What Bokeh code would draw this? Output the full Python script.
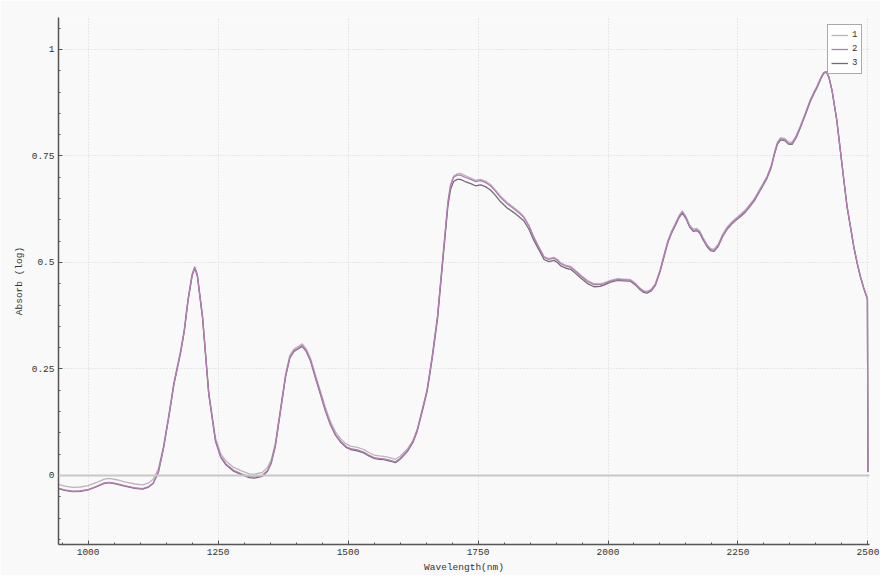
from bokeh.plotting import figure
from bokeh.models import FixedTicker, Span, Legend, LegendItem
from bokeh.embed import file_html
from bokeh.resources import INLINE

wavelength = [943, 955, 970, 985, 1000, 1015, 1030, 1040, 1055, 1070,
              1090, 1105, 1115, 1125, 1135, 1145, 1155, 1165, 1178, 1185,
              1192, 1200, 1205, 1210, 1220, 1232, 1245, 1255, 1265, 1280,
              1295, 1310, 1320, 1335, 1345, 1352, 1360, 1370, 1380, 1388,
              1396, 1405, 1412, 1420, 1428, 1437, 1447, 1456, 1466, 1476,
              1486, 1496, 1505, 1518, 1530, 1540, 1550, 1560, 1569, 1580,
              1591, 1600, 1614, 1625, 1633, 1642, 1652, 1662, 1672, 1680,
              1686, 1692, 1697, 1703, 1710, 1716, 1725, 1736, 1745, 1755,
              1764, 1774, 1783, 1793, 1806, 1819, 1830, 1838, 1848, 1857,
              1867, 1877, 1886, 1896, 1903, 1909, 1918, 1928, 1937, 1947,
              1960, 1973, 1985, 1992, 2005, 2018, 2030, 2043, 2052, 2060,
              2068, 2075, 2083, 2091, 2100, 2107, 2115, 2122, 2130, 2137,
              2143, 2150, 2157, 2164, 2170, 2176, 2183, 2190, 2197, 2204,
              2212, 2220, 2229, 2238, 2247, 2255, 2264, 2272, 2281, 2290,
              2298, 2306, 2314, 2320, 2326, 2332, 2340, 2347, 2354, 2362,
              2370, 2380, 2389, 2396, 2402, 2410, 2415, 2420, 2425, 2431,
              2440, 2447, 2454, 2460, 2467, 2473, 2480, 2486, 2492, 2499,
              2500]

series_1 = [-0.021, -0.025, -0.028, -0.027, -0.024, -0.017, -0.009, -0.007, -0.010, -0.015,
            -0.020, -0.022, -0.018, -0.009, 0.015, 0.069, 0.141, 0.219, 0.294, 0.344,
            0.414, 0.473, 0.490, 0.473, 0.376, 0.197, 0.088, 0.051, 0.034, 0.019,
            0.011, 0.004, 0.003, 0.007, 0.019, 0.036, 0.075, 0.157, 0.239, 0.282,
            0.297, 0.304, 0.309, 0.296, 0.274, 0.237, 0.197, 0.161, 0.127, 0.102,
            0.086, 0.074, 0.069, 0.066, 0.061, 0.054, 0.048, 0.046, 0.045, 0.042,
            0.038, 0.045, 0.062, 0.083, 0.109, 0.152, 0.202, 0.282, 0.374, 0.482,
            0.562, 0.642, 0.682, 0.703, 0.708, 0.709, 0.704, 0.698, 0.693, 0.695,
            0.691, 0.683, 0.671, 0.656, 0.641, 0.629, 0.618, 0.608, 0.587, 0.561,
            0.537, 0.514, 0.509, 0.512, 0.507, 0.499, 0.494, 0.491, 0.482, 0.471,
            0.458, 0.450, 0.450, 0.452, 0.458, 0.462, 0.461, 0.460, 0.452, 0.442,
            0.434, 0.432, 0.437, 0.450, 0.482, 0.515, 0.551, 0.573, 0.593, 0.611,
            0.621, 0.608, 0.588, 0.578, 0.580, 0.575, 0.558, 0.543, 0.533, 0.531,
            0.543, 0.565, 0.583, 0.595, 0.605, 0.613, 0.623, 0.635, 0.649, 0.668,
            0.685, 0.703, 0.728, 0.758, 0.783, 0.793, 0.791, 0.783, 0.782, 0.798,
            0.821, 0.852, 0.882, 0.900, 0.914, 0.936, 0.946, 0.948, 0.935, 0.904,
            0.835, 0.763, 0.690, 0.630, 0.580, 0.536, 0.495, 0.465, 0.440, 0.415,
            0.010]

series_2 = [-0.030, -0.034, -0.037, -0.036, -0.033, -0.026, -0.018, -0.016, -0.019, -0.024,
            -0.029, -0.031, -0.027, -0.018, 0.008, 0.065, 0.137, 0.215, 0.290, 0.340,
            0.410, 0.470, 0.488, 0.470, 0.372, 0.192, 0.082, 0.045, 0.027, 0.012,
            0.004, -0.003, -0.004, 0.000, 0.012, 0.030, 0.070, 0.153, 0.235, 0.278,
            0.293, 0.300, 0.305, 0.292, 0.270, 0.232, 0.192, 0.155, 0.121, 0.096,
            0.080, 0.068, 0.063, 0.060, 0.055, 0.048, 0.042, 0.040, 0.039, 0.036,
            0.032, 0.040, 0.058, 0.080, 0.106, 0.150, 0.200, 0.280, 0.372, 0.480,
            0.560, 0.640, 0.680, 0.700, 0.705, 0.705, 0.700, 0.695, 0.690, 0.692,
            0.688, 0.680, 0.668, 0.653, 0.638, 0.626, 0.615, 0.606, 0.585, 0.559,
            0.535, 0.512, 0.507, 0.510, 0.505, 0.497, 0.492, 0.489, 0.480, 0.469,
            0.456, 0.448, 0.448, 0.450, 0.456, 0.460, 0.459, 0.458, 0.450, 0.440,
            0.432, 0.430, 0.435, 0.448, 0.480, 0.512, 0.548, 0.570, 0.590, 0.608,
            0.618, 0.605, 0.585, 0.575, 0.577, 0.572, 0.555, 0.540, 0.530, 0.528,
            0.540, 0.562, 0.580, 0.592, 0.602, 0.610, 0.620, 0.632, 0.646, 0.665,
            0.682, 0.700, 0.725, 0.755, 0.780, 0.790, 0.788, 0.780, 0.779, 0.795,
            0.818, 0.850, 0.880, 0.898, 0.912, 0.935, 0.945, 0.948, 0.935, 0.904,
            0.835, 0.763, 0.690, 0.630, 0.580, 0.536, 0.495, 0.465, 0.440, 0.415,
            0.010]

series_3 = [-0.031, -0.035, -0.038, -0.037, -0.034, -0.027, -0.019, -0.017, -0.020, -0.025,
            -0.030, -0.032, -0.028, -0.019, 0.007, 0.064, 0.136, 0.214, 0.289, 0.339,
            0.409, 0.469, 0.487, 0.469, 0.371, 0.191, 0.080, 0.043, 0.025, 0.010,
            0.002, -0.005, -0.006, -0.002, 0.010, 0.028, 0.068, 0.151, 0.233, 0.276,
            0.291, 0.298, 0.303, 0.290, 0.268, 0.230, 0.190, 0.153, 0.119, 0.094,
            0.078, 0.066, 0.061, 0.058, 0.053, 0.046, 0.040, 0.038, 0.037, 0.034,
            0.030, 0.038, 0.056, 0.078, 0.104, 0.147, 0.197, 0.276, 0.367, 0.474,
            0.553, 0.632, 0.671, 0.690, 0.695, 0.695, 0.690, 0.685, 0.680, 0.682,
            0.678, 0.670, 0.658, 0.643, 0.628, 0.617, 0.606, 0.598, 0.578, 0.553,
            0.530, 0.507, 0.502, 0.505, 0.500, 0.492, 0.487, 0.484, 0.475, 0.464,
            0.451, 0.443, 0.444, 0.447, 0.454, 0.458, 0.457, 0.456, 0.448, 0.438,
            0.430, 0.428, 0.433, 0.446, 0.478, 0.510, 0.546, 0.568, 0.588, 0.606,
            0.616, 0.603, 0.583, 0.573, 0.575, 0.570, 0.553, 0.538, 0.528, 0.526,
            0.538, 0.560, 0.578, 0.590, 0.600, 0.608, 0.618, 0.630, 0.644, 0.663,
            0.680, 0.698, 0.723, 0.753, 0.778, 0.788, 0.786, 0.778, 0.777, 0.793,
            0.816, 0.848, 0.878, 0.896, 0.910, 0.933, 0.944, 0.947, 0.934, 0.903,
            0.834, 0.762, 0.689, 0.629, 0.579, 0.535, 0.494, 0.464, 0.439, 0.414,
            0.008]

series_names = ["1", "2", "3"]
series_colors = ["#bdb3bd", "#b57bb5", "#6e6e6e"]
x_ticks = [1000, 1250, 1500, 1750, 2000, 2250, 2500]
y_ticks = [0, 0.25, 0.5, 0.75, 1]

FONT = "Liberation Mono"
BG = "#f9f9f9"

p = figure(width=880, height=575, output_backend="svg", toolbar_location=None,
           x_range=(943, 2503), y_range=(-0.162, 1.075),
           min_border_left=58, min_border_right=11, min_border_top=17, min_border_bottom=31,
           background_fill_color=BG, border_fill_color=BG, outline_line_color=None)

zero = Span(location=0, dimension="width", line_color="#c8c8c8", line_width=2)
p.add_layout(zero)

r1 = p.line(wavelength, series_1, line_color=series_colors[0], line_width=1.3, line_join="round")
r3 = p.line(wavelength, series_3, line_color=series_colors[2], line_width=1.3, line_join="round")
r2 = p.line(wavelength, series_2, line_color=series_colors[1], line_width=1.3, line_join="round")

legend = Legend(items=[LegendItem(label=series_names[0], renderers=[r1]),
                       LegendItem(label=series_names[1], renderers=[r2]),
                       LegendItem(label=series_names[2], renderers=[r3])],
                location="top_right", margin=7, padding=3, spacing=0,
                glyph_width=17, glyph_height=14, label_standoff=4,
                label_text_font=FONT, label_text_font_size="9px", label_text_color="#333333",
                label_height=14, label_width=6,
                border_line_color="#555555", border_line_width=1,
                background_fill_color="#ffffff", background_fill_alpha=1.0)
p.add_layout(legend)

p.xaxis.ticker = FixedTicker(ticks=x_ticks, minor_ticks=list(range(950, 2501, 50)))
p.yaxis.ticker = FixedTicker(ticks=y_ticks, minor_ticks=[round(-0.15 + 0.05 * i, 2) for i in range(25)])

for ax in (p.xaxis, p.yaxis):
    ax.axis_line_color = "#555555"
    ax.axis_line_width = 1.5
    ax.major_tick_line_color = "#555555"
    ax.minor_tick_line_color = "#555555"
    ax.major_tick_in = 4
    ax.major_tick_out = 0
    ax.minor_tick_in = 2
    ax.minor_tick_out = 0
    ax.major_label_text_font = FONT
    ax.major_label_text_font_size = "9.5px"
    ax.major_label_text_color = "#333333"
    ax.axis_label_text_font = FONT
    ax.axis_label_text_font_size = "9.5px"
    ax.axis_label_text_font_style = "normal"
    ax.axis_label_text_color = "#333333"
    ax.major_label_standoff = 4
    ax.axis_label_standoff = 4

p.xaxis.axis_label = "Wavelength(nm)"
p.yaxis.axis_label = "Absorb (log)"

for g in (p.xgrid, p.ygrid):
    g.grid_line_color = "#d4d4d4"
    g.grid_line_dash = "1 2"
    g.grid_line_width = 1

open("out.html", "w").write(file_html(p, INLINE))
